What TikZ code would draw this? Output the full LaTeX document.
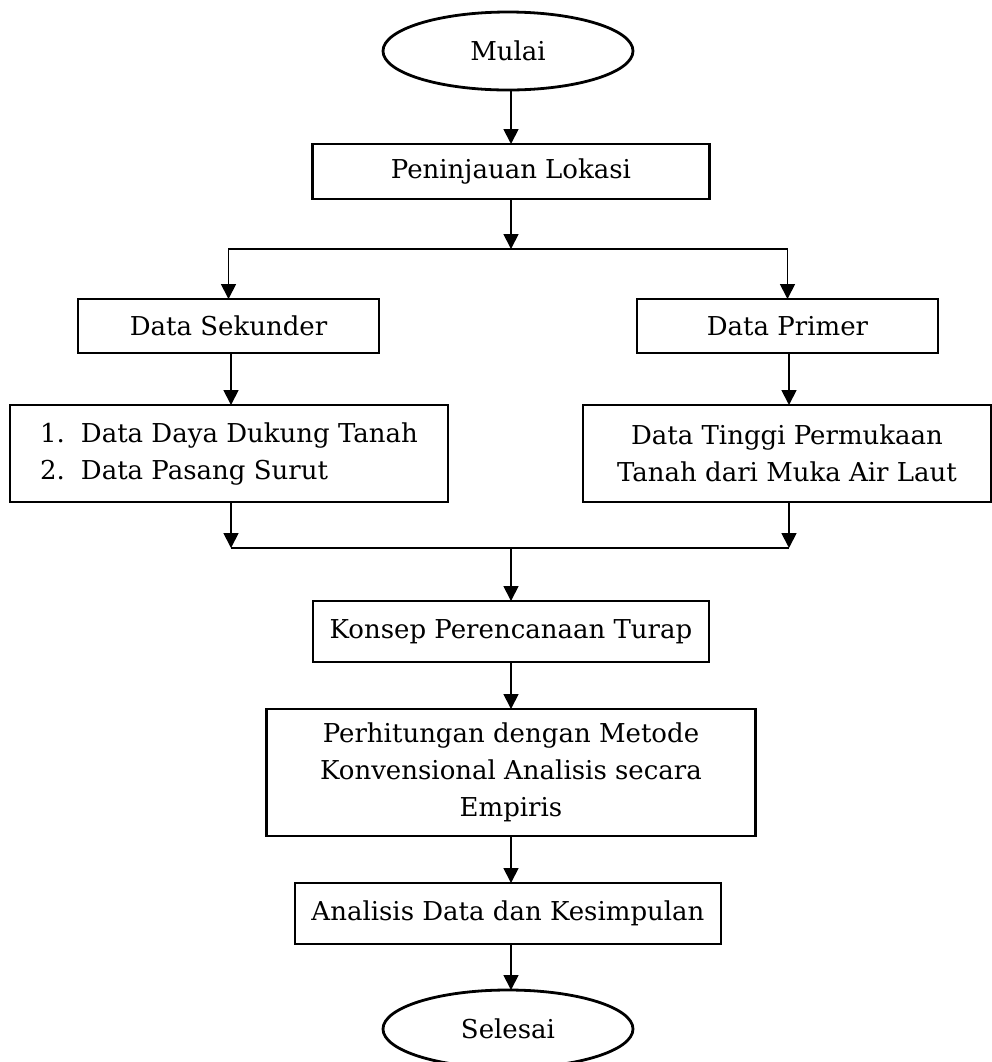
\documentclass[tikz,border=0pt]{standalone}
\usepackage{fontspec}
\setmainfont{DejaVu Serif}
\usetikzlibrary{shapes.geometric,arrows.meta}
\begin{document}
\begin{tikzpicture}[x=0.5pt,y=-0.5pt,
  every node/.style={font=\fontsize{13}{18.5}\selectfont, inner sep=0pt, outer sep=0pt},
  box/.style={draw, line width=1.4pt, rectangle, align=center},
  term/.style={draw, line width=1.4pt, ellipse, minimum width=125pt, minimum height=39pt},
  arr/.style={line width=0.9pt, -{Triangle[width=7.5pt,length=7.5pt]}},
  ln/.style={line width=0.9pt}]
\useasboundingbox (0,0) rectangle (992,1062);
\node[term] (mulai) at (508,51) {Mulai};
\node[box, minimum width=198.5pt, minimum height=27.5pt] (lokasi) at (511,171.5) {Peninjauan Lokasi};
\node[box, minimum width=150.5pt, minimum height=27pt] (sek) at (228.5,326) {Data Sekunder};
\node[box, minimum width=150.5pt, minimum height=27pt] (prim) at (787.5,326) {Data Primer};
\node[box, minimum width=219pt, minimum height=48.5pt] (list) at (229,453.5)
  {\begin{tabular}{@{}l@{\hspace{8pt}}l@{}}1. & Data Daya Dukung Tanah\\ 2. & Data Pasang Surut\end{tabular}};
\node[box, minimum width=204pt, minimum height=48.5pt] (tinggi) at (787,453.5)
  {Data Tinggi Permukaan\\Tanah dari Muka Air Laut};
\node[box, minimum width=198pt, minimum height=30.5pt] (konsep) at (511,631.5) {Konsep Perencanaan Turap};
\node[box, minimum width=244.5pt, minimum height=63.5pt] (hitung) at (511,772.5)
  {Perhitungan dengan Metode\\Konvensional Analisis secara\\Empiris};
\node[box, minimum width=213pt, minimum height=30.5pt] (analisis) at (508,913.5) {Analisis Data dan Kesimpulan};
\node[term] (selesai) at (508,1029) {Selesai};
\coordinate (jt) at (511,249);
\coordinate (jb) at (511,548);
\coordinate (jbl) at (231,548);
\coordinate (jbr) at (789,548);
\draw[arr] (mulai.south -| lokasi.north) -- (lokasi.north);
\draw[arr] (lokasi.south) -- (jt);
\draw[arr] (jt) -| (sek.north);
\draw[arr] (jt) -| (prim.north);
\draw[arr] (sek.south -| jbl) -- (jbl |- list.north);
\draw[arr] (prim.south -| jbr) -- (jbr |- tinggi.north);
\draw[arr] (list.south -| jbl) -- (jbl);
\draw[arr] (tinggi.south -| jbr) -- (jbr);
\draw[ln] (jbl) -- (jbr);
\draw[arr] (jb) -- (konsep.north);
\draw[arr] (konsep.south) -- (hitung.north);
\draw[arr] (hitung.south) -- (hitung.south |- analisis.north);
\draw[arr] (analisis.south -| hitung.south) -- (hitung.south |- selesai.north);
\end{tikzpicture}
\end{document}
